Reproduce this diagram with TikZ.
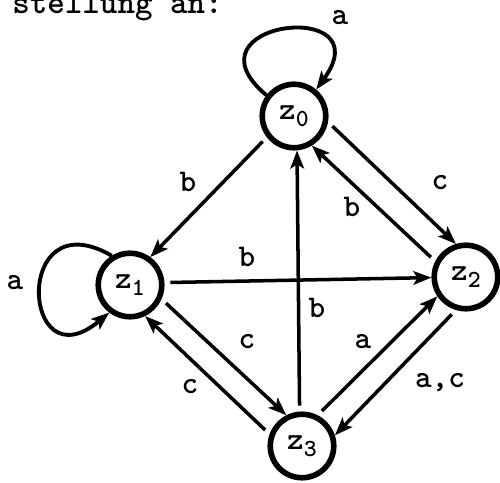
\documentclass[tikz,border=0pt]{standalone}
\usetikzlibrary{arrows.meta}
\newcommand{\zname}[1]{z\raisebox{-0.5ex}{\fontsize{14}{16}\selectfont #1}}
\begin{document}
\begin{tikzpicture}[x=0.02cm, y=0.02cm,
        state/.style={circle, draw, line width=3.2pt, minimum size=1.27cm, inner sep=0pt,
                      font=\ttfamily\bfseries\fontsize{18}{20}\selectfont},
        trans/.style={line width=2pt, shorten <=0.12cm,
                      -{Stealth[length=3.6mm, width=2.7mm, inset=0.8mm]}},
        selfloop/.style={line width=2.2pt, -{Stealth[length=3.6mm, width=2.7mm, inset=0.8mm]}},
        lbl/.style={inner sep=0pt, font=\ttfamily\bfseries\fontsize{18}{20}\selectfont}]
                \useasboundingbox (0,0) rectangle (500,483);
                % Heading
                \node[anchor=base west, inner sep=0pt, font=\ttfamily\bfseries\fontsize{19}{22}\selectfont] (head) at (12,469) {stellung an:};
                % States
                \node[state] (z0) at (294,367) {\zname{0}};
                \node[state] (z1) at (130,198) {\zname{1}};
                \node[state] (z2) at (466,206) {\zname{2}};
                \node[state] (z3) at (302,37) {\zname{3}};
                
                % Loops
                \draw[selfloop] (z0.143) to[out=140, in=54, distance=2.3cm] (z0.50);
                \draw[selfloop] (z1.122) to[out=150, in=220, distance=2.3cm] (z1.233);
                
                % Transitions
                \draw[trans] (z0.218) -- (z1.54);
                \draw[trans] (z0.-10) -- (z2.107);
                \draw[trans] (z2.153) -- (z0.-59);
                \draw[trans] (z3.94) -- (z0.-85);
                \draw[trans] (z1.4) -- (z2.181);
                \draw[trans] (z1.-24) -- (z3.117);
                \draw[trans] (z3.160) -- (z1.-64);
                \draw[trans] (z3.63) -- (z2.214);
                \draw[trans] (z2.253) -- (z3.18);
                
                % Labels
                \node[lbl] (l00) at (340,465) {a};
                \node[lbl] (l11) at (15,200) {a};
                \node[lbl] (l01) at (188,301) {b};
                \node[lbl] (l02) at (440,300) {c};
                \node[lbl] (l20) at (352,276) {b};
                \node[lbl] (l30) at (317,175) {b};
                \node[lbl] (l12) at (247,226) {b};
                \node[lbl] (l13) at (247,141) {c};
                \node[lbl] (l31) at (190,96) {c};
                \node[lbl] (l32) at (363,141) {a};
                \node[lbl] (l23) at (440,100) {a,c};
            \end{tikzpicture}
\end{document}
